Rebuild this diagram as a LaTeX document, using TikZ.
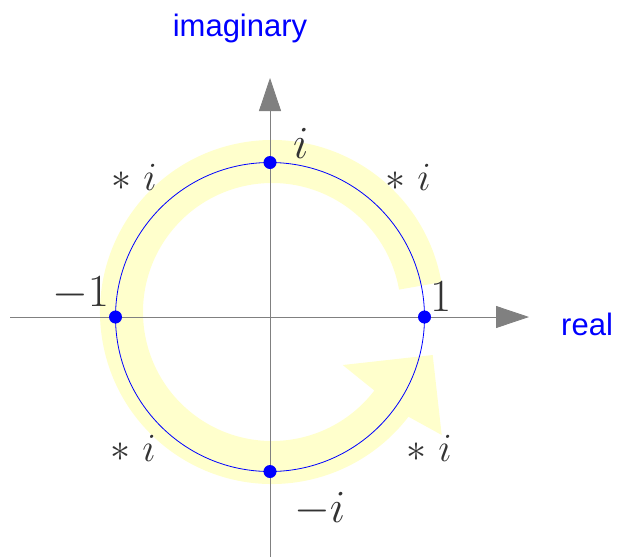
\RequirePackage{fix-cm}
\documentclass[tikz,border=0pt]{standalone}
\usepackage{fontspec}
\newfontfamily\arialfont{Liberation Sans}
\usetikzlibrary{arrows.meta,calc}
\definecolor{bandyellow}{RGB}{255,255,204}
\definecolor{axisgray}{RGB}{128,128,128}
\definecolor{labelgray}{RGB}{51,51,51}
\tikzset{
  axisline/.style={draw=axisgray, line width=0.8pt, -{Triangle[length=33pt,width=22pt]}, color=axisgray},
  unitcircle/.style={draw=blue, line width=0.8pt},
  dotnode/.style={circle, fill=blue, inner sep=0pt, minimum size=13pt},
  biglabel/.style={inner sep=0pt, anchor=base west, text=labelgray, font=\fontsize{46}{50}\selectfont},
  steplabel/.style={inner sep=0pt, anchor=base west, text=labelgray, font=\fontsize{40}{44}\selectfont},
  axislabel/.style={inner sep=0pt, text=blue, font=\arialfont\fontsize{31}{36}\selectfont}
}
\begin{document}
\begin{tikzpicture}[x=1pt,y=-1pt]
\useasboundingbox (0,0) rectangle (617,557);
% yellow rotation band with arrowhead
\coordinate (bc) at (272,312);
\fill[bandyellow] ($(bc)+(-10:172)$) arc[start angle=-10, end angle=-322.5, radius=172]
  -- (441.7,435) -- (432.7,355) -- (342.7,365)
  -- ($(bc)+(37.5:129)$) arc[start angle=-322.5, end angle=-10, radius=129] -- cycle;
% axes
\coordinate (xs) at (10,317);
\coordinate (xe) at (529,317);
\coordinate (ys) at (270,557);
\coordinate (ye) at (270,78);
\draw[axisline] (xs) -- (xe);
\draw[axisline] (ys) -- (ye);
% unit circle
\coordinate (o) at (270,317);
\draw[unitcircle] (o) circle[radius=154.5];
% points
\node[dotnode] (pone) at (424.5,317) {};
\node[dotnode] (pmone) at (115.5,317) {};
\node[dotnode] (pi) at (270,162.5) {};
\node[dotnode] (pmi) at (270,471.5) {};
% labels
\node[biglabel] (lone) at (430,311) {$1$};
\node[biglabel] (lmone) at (52,306) {$-1$};
\node[biglabel] (li) at (293,158) {$i$};
\node[biglabel] (lmi) at (294,522) {$-i$};
\node[steplabel] (s1) at (111,190) {$\ast\ i$};
\node[steplabel] (s2) at (385,190) {$\ast\ i$};
\node[steplabel] (s3) at (110,461) {$\ast\ i$};
\node[steplabel] (s4) at (406,461) {$\ast\ i$};
\node[axislabel, anchor=base] (limag) at (240,36) {imaginary};
\node[axislabel, anchor=base west] (lreal) at (561,335) {real};
\end{tikzpicture}
\end{document}
